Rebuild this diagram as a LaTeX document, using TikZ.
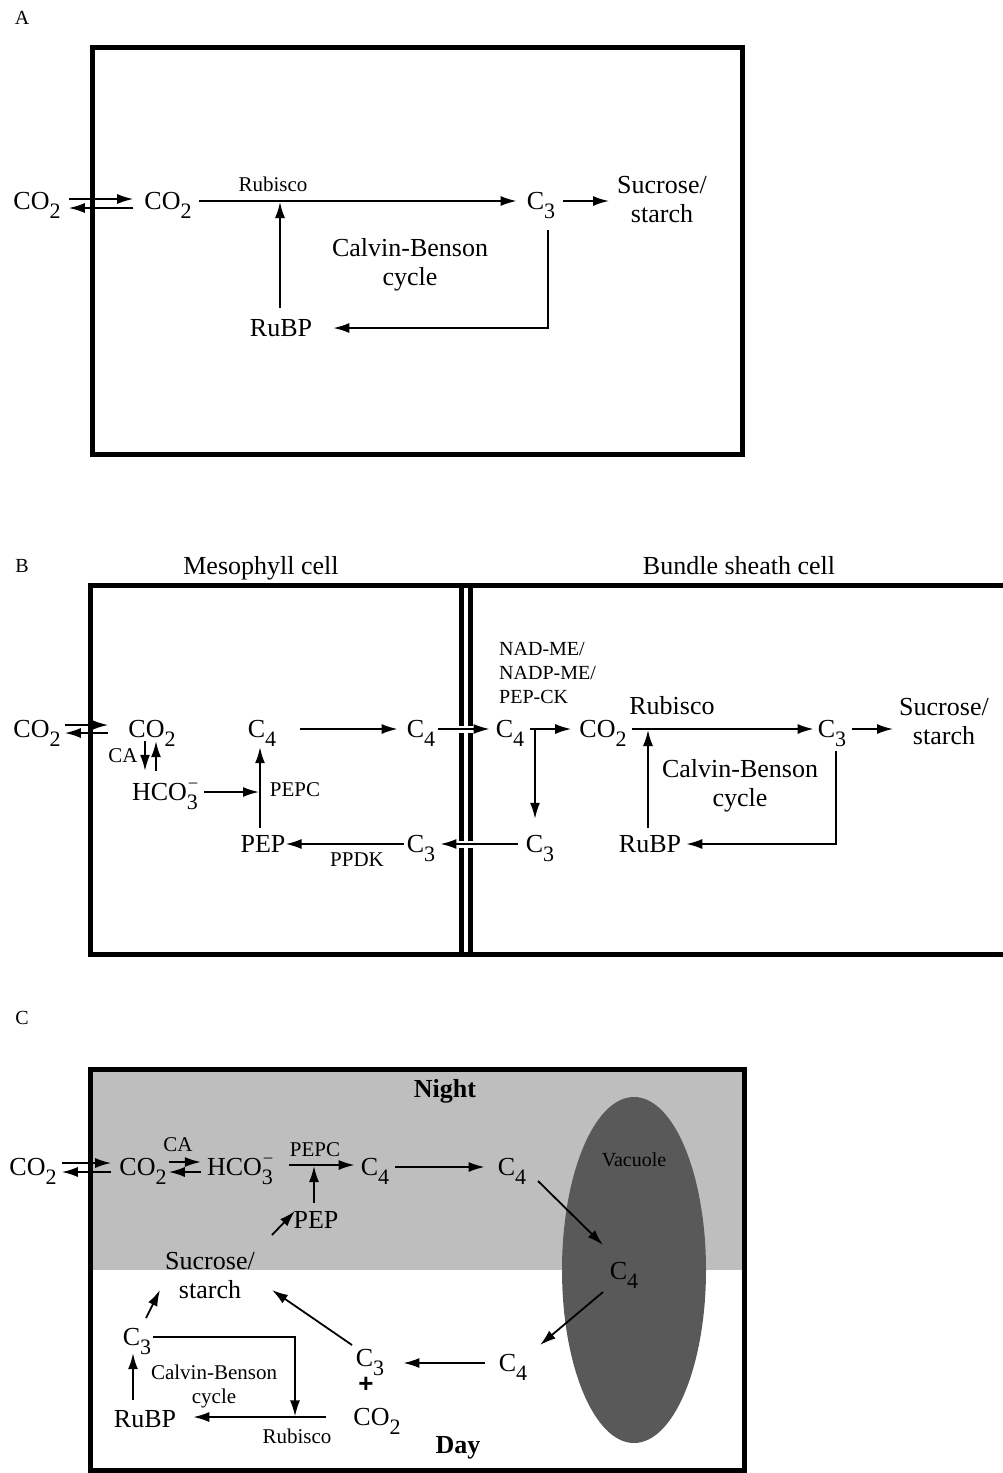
\documentclass[tikz,border=0pt]{standalone}
\usepackage{fontspec}
\setmainfont{Liberation Serif}
\newfontfamily\plusfont{Liberation Sans}
\usetikzlibrary{arrows.meta}
\definecolor{nightgray}{RGB}{190,190,190}
\definecolor{vacgray}{RGB}{89,89,89}
\newcommand\sbs[1]{\raisebox{-8.5pt}{\fontsize{22}{22}\selectfont #1}}
\newcommand\sbsm[1]{\rlap{\hspace{2pt}\raisebox{13pt}{\fontsize{17}{17}\selectfont --}}\raisebox{-8.5pt}{\fontsize{22}{22}\selectfont #1}}

\begin{document}
\begin{tikzpicture}[x=1pt,y=-1pt,
    big/.style={font=\fontsize{26}{29}\selectfont, inner sep=0pt, text height=17.5pt, text depth=0.5pt},
    two/.style={font=\fontsize{26}{29}\selectfont, inner sep=0pt, align=center},
    enz/.style={font=\fontsize{21}{24}\selectfont, inner sep=0pt, align=center},
    paneltag/.style={font=\fontsize{20}{22}\selectfont, inner sep=0pt},
    daynight/.style={font=\bfseries\fontsize{26}{29}\selectfont, inner sep=0pt},
    arr/.style={line width=1.8pt, -{Latex[length=16pt,width=10pt]}},
    wallbox/.style={line width=5pt},
    hole/.style={white, line width=7pt}]
  \useasboundingbox (0,0) rectangle (1002,1473);

  % A: C3
  \node[paneltag] (tagA) at (22,18) {A};
  \draw[wallbox] (92.5,47.5) rectangle (742.5,454.5);
  \node[big] (co2oA) at (37,201) {CO\sbs{2}};
  \node[big] (co2iA) at (168,201) {CO\sbs{2}};
  \node[enz] (rubiscoA) at (273,184) {Rubisco};
  \node[big] (c3A) at (541,201) {C\sbs{3}};
  \node[two] (sucA) at (662,200) {Sucrose/\\starch};
  \node[two] (cbA) at (410,265) {Calvin-Benson\\cycle};
  \node[big] (rubpA) at (281,328) {RuBP};
  \draw[arr, shorten <=8pt, shorten >=11pt] ([yshift=2pt]co2oA.east) -- ([yshift=2pt]co2iA.west);
  \draw[arr, shorten <=11pt, shorten >=8pt] ([yshift=-7pt]co2iA.west) -- ([yshift=-7pt]co2oA.east);
  \draw[arr, shorten <=7pt, shorten >=10pt] (co2iA.east) -- (c3A.west);
  \draw[arr, shorten <=11pt, shorten >=1pt] ([xshift=-1pt]rubpA.north) -- ([xshift=-1pt]rubpA.north |- co2iA.east);
  \draw[arr, shorten <=8pt, shorten >=8pt] (c3A.east) -- (c3A.east -| sucA.west);
  \draw[arr, shorten <=20pt, shorten >=21pt] ([xshift=7pt]c3A.south) |- (rubpA.east);

  % B: C4
  \node[paneltag] (tagB) at (22,566) {B};
  \node[big] (mesoB) at (261,566) {Mesophyll cell};
  \node[big] (bundB) at (739,566) {Bundle sheath cell};
  \draw[wallbox] (1010,585.5) -- (90.5,585.5) -- (90.5,954.5) -- (1010,954.5);
  \draw[line width=5pt] (461.5,585.5) -- (461.5,954.5);
  \draw[line width=5pt] (470,585.5) -- (470,954.5);
  \node[big] (co2oB) at (37,729) {CO\sbs{2}};
  \node[big] (co2iB) at (152,729) {CO\sbs{2}};
  \node[big] (c4mB) at (262,729) {C\sbs{4}};
  \node[big] (c4wB) at (421,729) {C\sbs{4}};
  \node[big] (c4bB) at (510,729) {C\sbs{4}};
  \node[big] (co2bB) at (603,729) {CO\sbs{2}};
  \node[big] (c3bB) at (832,729) {C\sbs{3}};
  \node[two] (sucB) at (944,722) {Sucrose/\\starch};
  \node[two] (rubiscoB) at (672,706) {Rubisco};
  \node[enz, anchor=west, align=left, font=\fontsize{20}{24}\selectfont] (meB) at (499,673) {NAD-ME/\\NADP-ME/\\PEP-CK};
  \node[two] (cbB) at (740,786) {Calvin-Benson\\cycle};
  \node[enz] (caB) at (123,756) {CA};
  \node[big] (hco3B) at (165,792) {HCO\sbsm{3}};
  \node[enz] (pepcB) at (295,790) {PEPC};
  \node[big] (pepB) at (263,844) {PEP};
  \node[big] (c3mB) at (421,844) {C\sbs{3}};
  \node[enz] (ppdkB) at (357,860) {PPDK};
  \node[big] (c3xB) at (540,844) {C\sbs{3}};
  \node[big] (rubpB) at (650,844) {RuBP};
  \draw[arr, shorten <=4pt, shorten >=20pt] ([yshift=4pt]co2oB.east) -- ([yshift=4pt]co2iB.west);
  \draw[arr, shorten <=20pt, shorten >=4pt] ([yshift=-4pt]co2iB.west) -- ([yshift=-4pt]co2oB.east);
  \draw[arr, shorten <=3pt, shorten >=12pt] ([xshift=-7pt]co2iB.south) -- ([xshift=-7pt]co2iB.south |- hco3B.north);
  \draw[arr, shorten <=12pt, shorten >=3pt] ([xshift=4pt]co2iB.south |- hco3B.north) -- ([xshift=4pt]co2iB.south);
  \draw[arr, shorten <=6pt, shorten >=1pt] (hco3B.east) -- ([xshift=-2pt]hco3B.east -| c4mB.south);
  \draw[arr, shorten <=7pt, shorten >=9pt] ([xshift=-3pt]pepB.north) -- ([xshift=-3pt]pepB.north |- c4mB.south);
  \draw[arr, shorten <=24pt, shorten >=9pt] (c4mB.east) -- (c4wB.west);
  \draw[hole, shorten <=20pt, shorten >=19pt] (c4wB.east) -- (c4bB.west);
  \draw[arr, shorten <=3pt, shorten >=6pt] (c4wB.east) -- (c4bB.west);
  \draw[arr, shorten <=6pt, shorten >=8pt] (c4bB.east) -- (co2bB.west);
  \draw[arr, shorten >=16pt] ([xshift=25pt]c4bB.center) -- ([xshift=25pt]c4bB.center |- c3xB.north);
  \draw[arr, shorten <=5pt, shorten >=4pt] (co2bB.east) -- (c3bB.west);
  \draw[arr, shorten <=7pt, shorten >=1pt] ([xshift=-2pt]rubpB.north) -- ([xshift=-2pt]rubpB.north |- co2bB.east);
  \draw[arr, shorten <=6pt, shorten >=6pt] (c3bB.east) -- (c3bB.east -| sucB.west);
  \draw[arr, shorten <=13pt, shorten >=5pt] ([xshift=4pt]c3bB.south) |- (rubpB.east);
  \draw[hole, shorten <=49pt, shorten >=20pt] (c3xB.west) -- (c3mB.east);
  \draw[arr, shorten <=8pt, shorten >=5pt] (c3xB.west) -- (c3mB.east);
  \draw[arr, shorten <=3pt, shorten >=0pt] (c3mB.west) -- (pepB.east);

  % C: CAM
  \node[paneltag] (tagC) at (22,1018) {C};
  \fill[nightgray] (90.5,1069.5) rectangle (744.5,1270);
  \fill[vacgray] (634,1270) ellipse [x radius=72pt, y radius=173pt];
  \draw[wallbox] (90.5,1069.5) rectangle (744.5,1470.5);
  \node[daynight] (nightC) at (445,1091) {Night};
  \node[daynight] (dayC) at (458,1448) {Day};
  \node[enz, font=\fontsize{20}{22}\selectfont] (vacC) at (634,1160) {Vacuole};
  \node[big] (co2oC) at (33,1167) {CO\sbs{2}};
  \node[big] (co2iC) at (143,1167) {CO\sbs{2}};
  \node[enz] (caC) at (178,1145) {CA};
  \node[big] (hco3C) at (240,1167) {HCO\sbsm{3}};
  \node[enz] (pepcC) at (315,1150) {PEPC};
  \node[big] (c4aC) at (375,1167) {C\sbs{4}};
  \node[big] (c4bC) at (512,1167) {C\sbs{4}};
  \node[big] (pepC) at (316,1220) {PEP};
  \node[big] (c4vC) at (624,1271) {C\sbs{4}};
  \node[big] (c4dC) at (513,1363) {C\sbs{4}};
  \node[big] (c3dC) at (370,1358) {C\sbs{3}};
  \node[inner sep=0pt, font=\plusfont\bfseries\fontsize{26}{26}\selectfont] (plusC) at (366,1385) {+};
  \node[big] (co2dC) at (377,1417) {CO\sbs{2}};
  \node[two] (sucC) at (210,1276) {Sucrose/\\starch};
  \node[big] (c3lC) at (137,1337) {C\sbs{3}};
  \node[big] (rubpC) at (145,1419) {RuBP};
  \node[enz] (cbC) at (214,1386) {Calvin-Benson\\cycle};
  \node[enz] (rubiscoC) at (297,1436) {Rubisco};
  \draw[arr, shorten <=5pt, shorten >=8pt] ([yshift=4pt]co2oC.east) -- ([yshift=4pt]co2iC.west);
  \draw[arr, shorten <=8pt, shorten >=5pt] ([yshift=-5pt]co2iC.west) -- ([yshift=-5pt]co2oC.east);
  \draw[arr, shorten <=2pt, shorten >=6pt] ([yshift=5pt]co2iC.east) -- ([yshift=5pt]hco3C.west);
  \draw[arr, shorten <=6pt, shorten >=2pt] ([yshift=-5pt]hco3C.west) -- ([yshift=-5pt]co2iC.east);
  \draw[arr, shorten <=16pt, shorten >=6pt] ([yshift=2pt]hco3C.east) -- ([yshift=2pt]c4aC.west);
  \draw[arr, shorten <=8pt, shorten >=1pt] ([xshift=-2pt]pepC.north) -- ([xshift=-2pt,yshift=2pt]pepC.north |- hco3C.east);
  \draw[arr, shorten <=6pt, shorten >=13pt] (c4aC.east) -- (c4bC.west);
  \draw[arr] ([shift={(26,14)}]c4bC.center) -- ([shift={(-21,-26)}]c4vC.center);
  \draw[arr] ([shift={(-21,21)}]c4vC.center) -- ([shift={(27,-18)}]c4dC.center);
  \draw[arr, shorten <=14pt, shorten >=19pt] (c4dC.west) -- (c4dC.west -| c3dC.east);
  \draw[arr] ([shift={(-18,-13)}]c3dC.center) -- ([shift={(62,14)}]sucC.center);
  \draw[arr] ([shift={(62,-41)}]sucC.center) -- ([shift={(-21,-9)}]pepC.center);
  \draw[arr] ([shift={(9,-19)}]c3lC.center) -- ([shift={(-50,14)}]sucC.center);
  \draw[arr, shorten <=10pt, shorten >=7pt] ([xshift=-12pt]rubpC.north) -- ([xshift=-12pt]rubpC.north |- c3lC.south);
  \draw[arr, shorten <=2pt, shorten >=12pt] (c3lC.east) -| ([xshift=-2pt]rubiscoC.north);
  \draw[arr, shorten <=27pt, shorten >=17pt] (co2dC.west) -- (co2dC.west -| rubpC.east);
\end{tikzpicture}
\end{document}
